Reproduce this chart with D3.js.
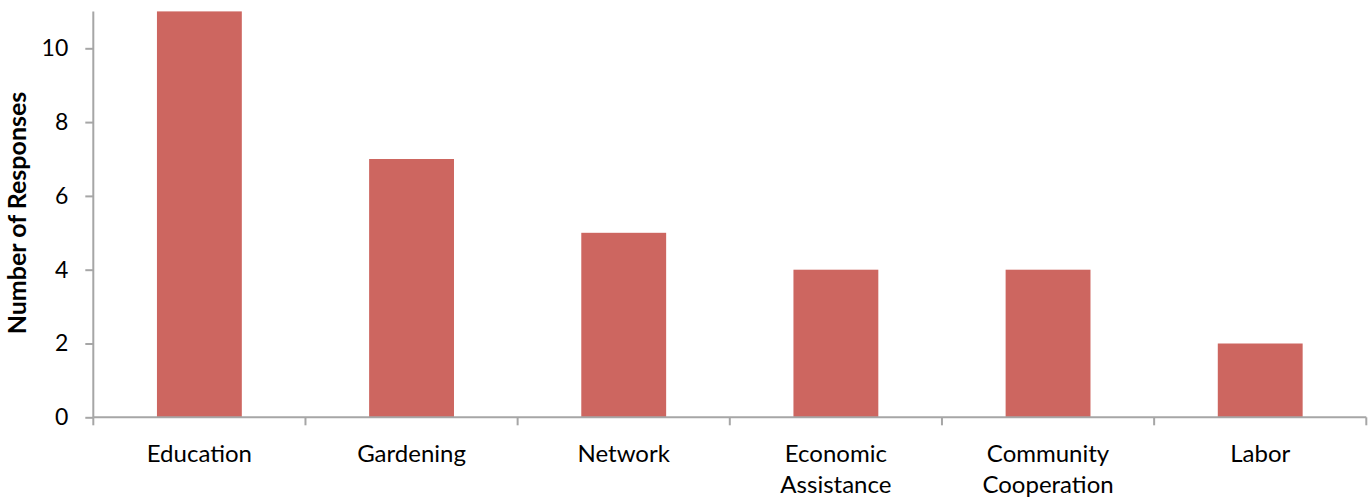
<!DOCTYPE html>
<html>
<head>
<meta charset="utf-8">
<script src="https://cdn.jsdelivr.net/npm/d3@7"></script>
<style>
  html, body { margin: 0; padding: 0; background: #fff; }
  svg text { font-family: Lato, "Open Sans", sans-serif; fill: #000; }
</style>
</head>
<body>
<svg id="chart" width="1372" height="498"></svg>
<script>
// Survey responses per category
const categories = ["Education", "Gardening", "Network", "Economic Assistance", "Community Cooperation", "Labor"];
const responses = [11, 7, 5, 4, 4, 2];
const yTicks = [0, 2, 4, 6, 8, 10];

const svg = d3.select("#chart");
const margin = { left: 93.3, right: 5.7, top: 11.4, bottom: 80.7 };
const width = 1372 - margin.left - margin.right;
const height = 498 - margin.top - margin.bottom;
const axisColor = "#a6a6a6";
const barColor = "#cd6660";

const g = svg.append("g").attr("transform", `translate(${margin.left},${margin.top})`);

const x = d3.scaleBand().domain(categories).range([0, width]).paddingInner(0.6).paddingOuter(0.3);
const y = d3.scaleLinear().domain([0, 11]).range([height, 0]);

// bars
g.selectAll("rect.bar")
  .data(categories.map((c, i) => ({ c, v: responses[i] })))
  .join("rect")
  .attr("class", "bar")
  .attr("x", d => x(d.c))
  .attr("y", d => y(d.v))
  .attr("width", x.bandwidth())
  .attr("height", d => y(0) - y(d.v))
  .attr("fill", barColor);

// y axis
const yAxis = g.append("g")
  .call(d3.axisLeft(y).tickValues(yTicks).tickSize(8).tickPadding(17).tickFormat(d3.format("d")));
yAxis.select(".domain").attr("stroke", axisColor).attr("stroke-width", 2)
  .attr("d", `M0,${y(11)}V${y(0)}`);
yAxis.selectAll(".tick line").attr("stroke", axisColor).attr("stroke-width", 2);
yAxis.selectAll(".tick text").attr("font-size", 23).attr("font-family", "Lato");

// x axis: category boundaries as ticks
const xAxis = g.append("g").attr("transform", `translate(0,${height})`);
xAxis.append("path")
  .attr("d", `M0,0H${width}`)
  .attr("stroke", axisColor).attr("stroke-width", 2).attr("fill", "none");
const bounds = d3.range(categories.length + 1).map(i => i * x.step());
xAxis.selectAll("line.bnd")
  .data(bounds)
  .join("line")
  .attr("class", "bnd")
  .attr("x1", d => d).attr("x2", d => d)
  .attr("y1", 0).attr("y2", 8)
  .attr("stroke", axisColor).attr("stroke-width", 2);

// category labels, wrapped onto two lines where needed
xAxis.selectAll("text.cat")
  .data(categories)
  .join("text")
  .attr("class", "cat")
  .attr("text-anchor", "middle")
  .attr("font-size", 24)
  .each(function (c) {
    const words = c.split(" ");
    const t = d3.select(this);
    words.forEach((w, i) => {
      t.append("tspan")
        .attr("x", x(c) + x.bandwidth() / 2)
        .attr("y", 44.5 + i * 31.5)
        .text(w);
    });
  });

// y axis title
svg.append("text")
  .attr("transform", `translate(26,213) rotate(-90)`)
  .attr("text-anchor", "middle")
  .attr("font-size", 25)
  .attr("font-weight", "bold")
  .text("Number of Responses");
</script>
</body>
</html>
